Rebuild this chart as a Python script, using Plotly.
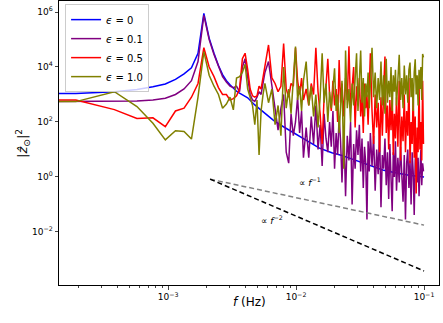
import numpy as np
import plotly.graph_objects as go

# frequency resolution of the spectrum (last bin ~0.1 Hz)
DF = 0.1 / 525

# bin numbers; 0.5 stands for the f=0 bin that matplotlib draws flat to the left edge
bins_blue = [0.5] + list(range(1, 21)) + [22, 25, 30, 35, 40, 50, 60, 70, 80, 100,
                                          120, 150, 200, 250, 300, 400, 525]
bins = ([0.5] + list(range(1, 31)) + list(range(32, 61, 2)) + list(range(63, 121, 3))
        + list(range(124, 201, 4)) + list(range(206, 321, 6)) + list(range(328, 521, 8)))

# log10 |z|^2
log_eps0 = [3.04,
            3.04, 3.10, 3.18, 3.28, 3.38, 3.55, 3.75, 3.97, 4.50, 5.95,
            5.05, 4.50, 4.05, 3.72, 3.50, 3.35, 3.22, 3.12, 3.05, 3.00,
            2.88, 2.62, 2.30, 2.06, 1.88, 1.62, 1.38, 1.20, 1.05, 0.88,
            0.78, 0.62, 0.40, 0.25, 0.17, 0.06, 0.00]

log_eps01 = [2.74,
             2.74, 2.74, 2.76, 2.80, 2.86, 3.00, 3.20, 3.50, 4.20, 5.88,
             5.00, 4.45, 4.00, 3.65, 3.45, 3.30, 3.25, 3.30, 3.10, 4.00,
             4.30, 3.70, 3.00, 2.80, 2.75, 2.90, 3.10, 3.00, 3.40, 3.80,
             4.20, 3.30, 2.60, 1.70, 2.50, 3.00, 0.90, 0.50, 2.30, 1.50, 2.00, 2.90, 1.60, 2.40, 0.70,
             1.8, 0.7, 2.2, 1.2, 2.6, 1.0, 1.9, 0.4, 2.3, 1.4, 0.9, 2.0, 1.1, 2.4, 0.3, 1.6, 0.8, 2.2, 1.3, -0.2,
             1.8, -0.7, 1.5, 0.6, 2.0, -1.0, 1.2, 0.3, 1.7, 0.8, 1.9, 0.2, 1.4, -0.4, 1.1, 0.5, -1.55, 1.3, 0.2, 1.6,
             0.4, 1.5, -0.5, 1.0, 0.1, 1.7, -1.1, 0.8, 0.3, 1.4, -0.3, 0.9, -0.8, 1.2, 0.2, -1.25, 0.9, 0.0, 1.3, -0.5,
             0.7, -0.2, 1.1, 0.1, -0.9, 0.8, -1.55, 0.5, 1.0, -0.4, 0.6, -1.0, 0.9, 0.2, -1.38, 0.6, 1.2, -0.2,
             0.7, -0.7, 0.4, 1.0, -0.3, 0.5, 0.2]

log_eps05 = [2.80,
             2.80, 2.45, 2.13, 2.15, 1.83, 2.40, 2.50, 2.90, 3.40, 4.70,
             4.00, 3.65, 3.25, 3.00, 3.00, 2.80, 2.85, 2.95, 3.20, 4.30,
             4.50, 3.90, 3.20, 2.95, 2.90, 2.95, 3.30, 3.20, 3.60, 4.10,
             4.80, 3.60, 3.40, 3.10, 3.30, 4.85, 3.20, 2.90, 3.40, 3.30, 4.70, 3.50, 3.00, 3.60, 2.80,
             3.2, 2.6, 3.4, 3.0, 4.7, 3.1, 2.3, 1.2, 2.9, 3.3, 4.3, 3.0, 2.4, 3.5, 2.6, 3.2, 2.0, 4.25, 2.7, 3.4,
             2.2, 3.6, 2.8, 4.75, 2.5, 3.2, 4.0, 1.8, 3.3, 2.6, 3.6, 2.2, 3.0, 1.6, 3.4, 2.5, 3.0, 1.9, 3.3, 4.5,
             2.4, 1.2, 3.0, 1.8, 2.7, 0.9, 2.9, 1.5, 3.2, 4.38, 1.6, 2.6, 1.0, 2.8, 1.7, 3.1, 0.8, 2.3, 1.4, 2.9,
             1.1, 3.5, 0.6, 2.2, 1.3, 3.0, 0.9, 2.4, 1.5, 3.6, 0.5, 2.0, 1.2, 3.1, 0.7, 2.2, -0.6, 1.8,
             0.9, 3.4, 1.0, 2.0, 0.6, 3.5, 1.2]

log_eps10 = [2.74,
             2.74, 3.10, 2.56, 1.95, 1.35, 1.68, 1.65, 1.38, 2.90, 4.56,
             3.70, 3.30, 3.00, 2.50, 2.65, 2.90, 2.44, 3.60, 3.65, 3.80,
             4.10, 3.20, 2.90, 2.60, 1.90, 2.80, 0.80, 2.40, 3.00, 3.40,
             2.70, 3.20, 1.90, 2.60, 1.50, 4.00, 2.50, 3.20, 2.30, 3.60, 4.74, 2.80, 3.30, 2.40, 3.50,
             4.2, 2.6, 3.3, 2.2, 3.0, 1.8, 2.9, 4.5, 2.7, 3.4, 2.0, 3.1, 2.5, 3.3, 3.95, 2.4, 3.0, 1.6, 2.8, 3.5,
             0.3, 4.6, 2.5, 3.2, 2.0, 3.4, 2.6, 3.7, 4.5, 2.4, 3.3, 4.6, 2.7, 3.6, 2.2, 3.4, 2.9, 3.8, 2.5, 3.5,
             4.7, 2.9, 3.8, 2.5, 3.6, 2.8, 4.2, 2.6, 3.7, 2.3, 4.3, 2.7, 3.5, 2.9, 4.0, 2.4, 3.7, 3.1, 3.9, 2.6,
             3.8, 4.44, 2.8, 3.6, 2.5, 4.05, 3.0, 3.7, 2.7, 3.9, 4.16, 2.9, 3.6, 2.4, 3.8, 4.28, 3.0, 3.7,
             2.6, 3.9, 3.2, 4.0, 2.8, 4.47, 4.35]

# guide lines (two end points each)
guide_f = [2.13e-3, 0.1]
guide_f1 = [0.83, 0.0177]
guide_f2 = [0.83, 3.8e-4]

series = [
    ("<i>ϵ</i> = 0", bins_blue, log_eps0, "blue"),
    ("<i>ϵ</i> = 0.1", bins, log_eps01, "purple"),
    ("<i>ϵ</i> = 0.5", bins, log_eps05, "red"),
    ("<i>ϵ</i> = 1.0", bins, log_eps10, "olive"),
]

fig = go.Figure()
for name, b, lv, col in series:
    fig.add_trace(go.Scatter(x=np.array(b) * DF, y=10 ** np.array(lv), mode="lines",
                             name=name, line=dict(color=col, width=1.5)))

fig.add_trace(go.Scatter(x=guide_f, y=guide_f1, mode="lines", showlegend=False,
                         line=dict(color="gray", width=1.5, dash="5px,3px")))
fig.add_trace(go.Scatter(x=guide_f, y=guide_f2, mode="lines", showlegend=False,
                         line=dict(color="black", width=1.5, dash="5px,3px")))

font = "DejaVu Sans"
fig.update_layout(
    width=443, height=323,
    margin=dict(l=59, r=4, t=1, b=38),
    plot_bgcolor="white", paper_bgcolor="white",
    font=dict(family=font, size=9, color="black"),
    showlegend=True,
    legend=dict(x=0.016, y=0.989, xanchor="left", yanchor="top",
                bgcolor="rgba(255,255,255,0.8)", bordercolor="#cccccc", borderwidth=1,
                font=dict(size=10), itemwidth=30, tracegroupgap=0),
    annotations=[
        dict(text="∝ <i>f</i><sup>−1</sup>", x=0.6605, y=0.3627, xref="paper", yref="paper",
             showarrow=False, font=dict(size=9)),
        dict(text="∝ <i>f</i><sup>−2</sup>", x=0.5605, y=0.2007, xref="paper", yref="paper",
             showarrow=False, font=dict(size=9)),
        dict(text="<i>f</i> (Hz)", x=0.5, y=-0.0915, xref="paper", yref="paper",
             showarrow=False, font=dict(size=12)),
        dict(text="|<i>ẑ</i><sub>⊙</sub>|<sup>2</sup>", x=-0.124, y=0.5, xref="paper", yref="paper",
             showarrow=False, textangle=-90, font=dict(size=13)),
    ],
)

fig.update_xaxes(type="log", range=[-3.852, -0.883], showgrid=False, zeroline=False,
                 showline=True, linecolor="black", linewidth=1, mirror=True,
                 ticks="outside", ticklen=3.5, tickwidth=0.8,
                 tickvals=[1e-3, 1e-2, 1e-1],
                 ticktext=["10<sup>−3</sup>", "10<sup>−2</sup>", "10<sup>−1</sup>"],
                 minor=dict(ticks="outside", ticklen=2, tickwidth=0.6,
                            tickvals=[m * 10.0 ** e for e in (-4, -3, -2) for m in range(2, 10)]))
fig.update_yaxes(type="log", range=[-3.93, 6.4], showgrid=False, zeroline=False,
                 showline=True, linecolor="black", linewidth=1, mirror=True,
                 ticks="outside", ticklen=3.5, tickwidth=0.8,
                 tickvals=[1e-2, 1, 1e2, 1e4, 1e6],
                 ticktext=["10<sup>−2</sup>", "10<sup>0</sup>", "10<sup>2</sup>",
                           "10<sup>4</sup>", "10<sup>6</sup>"])

# drop the page's default body margin so the figure sits at the window origin
fig.write_html("out.html", config={"displayModeBar": False},
               post_script="document.body.style.margin='0';")
